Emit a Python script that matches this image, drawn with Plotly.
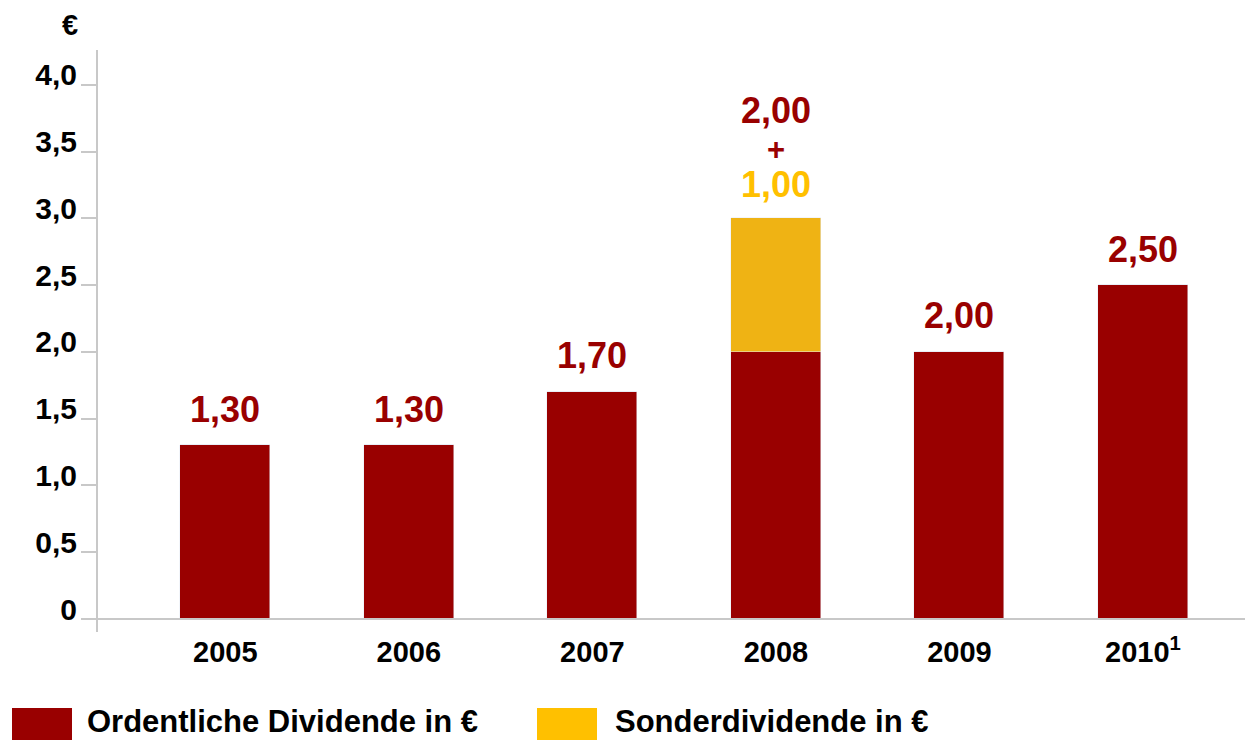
import plotly.graph_objects as go

years = ["2005", "2006", "2007", "2008", "2009", "2010<sup>1</sup>"]
ordentlich = [1.30, 1.30, 1.70, 2.00, 2.00, 2.50]
sonder = [0, 0, 0, 1.00, 0, 0]
ytick_vals = [0, 0.5, 1.0, 1.5, 2.0, 2.5, 3.0, 3.5, 4.0]
ytick_text = ["0", "0,5", "1,0", "1,5", "2,0", "2,5", "3,0", "3,5", "4,0"]

RED = "#990000"
YEL_BAR = "#EFB314"
YEL = "#FFC000"
FONT = "Liberation Sans, Arial, sans-serif"

def fmt(v):
    return f"{v:.2f}".replace(".", ",")

def f(size, color="black"):
    return dict(family=FONT, size=size, color=color, weight="bold")

x = list(range(len(years)))
fig = go.Figure()
fig.add_trace(go.Bar(x=x, y=ordentlich, marker_color=RED, width=0.49,
                     name="Ordentliche Dividende in €", hoverinfo="skip"))
fig.add_trace(go.Bar(x=x, y=sonder, marker_color=YEL_BAR, width=0.49,
                     name="Sonderdividende in €", hoverinfo="skip"))

annotations = []
for i, (o, s) in enumerate(zip(ordentlich, sonder)):
    tot = o + s
    if s > 0:
        annotations.append(dict(x=i, y=tot, text=fmt(s), yshift=34, yanchor="middle",
                                showarrow=False, font=f(36, YEL)))
        annotations.append(dict(x=i, y=tot, text="+", yshift=69, yanchor="middle",
                                showarrow=False, font=f(31, RED)))
        annotations.append(dict(x=i, y=tot, text=fmt(o), yshift=108, yanchor="middle",
                                showarrow=False, font=f(36, RED)))
    else:
        annotations.append(dict(x=i, y=tot, text=fmt(o), yshift=36, yanchor="middle",
                                showarrow=False, font=f(36, RED)))

# figure is rendered with an 8px page margin; positions below are in figure px
OFF = 8
W, H = 1253 - OFF, 740 - OFF
L, R, T, B = 98 - OFF, 0, 50 - OFF, 740 - 632
pw = W - L - R
ph = H - T - B

def px(sx):
    return (sx - OFF - L) / pw

def py(sy):
    return (H - B - (sy - OFF)) / ph

annotations.append(dict(xref="paper", yref="paper", x=px(70), y=py(25),
                        text="€", showarrow=False, xanchor="center", yanchor="middle",
                        font=f(29)))

leg_items = [("Ordentliche Dividende in €", RED, 12, 72, 85),
             ("Sonderdividende in €", YEL, 537, 597, 613)]
shapes = []
for name, col, x0, x1, tx in leg_items:
    shapes.append(dict(type="rect", xref="paper", yref="paper",
                       x0=px(x0), x1=px(x1), y0=py(742), y1=py(708),
                       fillcolor=col, line=dict(width=0)))
    annotations.append(dict(xref="paper", yref="paper", x=px(tx), y=py(722),
                            text=name, showarrow=False, xanchor="left", yanchor="middle",
                            font=f(31)))

shapes.append(dict(type="line", xref="paper", yref="y", x0=0, x1=1, y0=0, y1=0,
                   line=dict(color="#c8c8c8", width=2)))

fig.update_layout(
    width=W, height=H, margin=dict(l=L, r=R, t=T, b=B),
    barmode="stack", showlegend=False, bargap=0,
    plot_bgcolor="white", paper_bgcolor="white",
    annotations=annotations, shapes=shapes,
    font=dict(family=FONT, color="black"),
    xaxis=dict(range=[-0.694, 5.6], tickvals=x, ticktext=years, showgrid=False,
               zeroline=False, showline=False, ticks="",
               tickfont=f(29)),
    yaxis=dict(range=[-0.097, 4.26], tickvals=ytick_vals, ticktext=ytick_text,
               showgrid=False, zeroline=False, showline=True, linecolor="#c8c8c8",
               linewidth=2, ticks="outside", ticklen=15, tickcolor="#c8c8c8",
               tickwidth=2, ticklabelshift=-10, ticklabelstandoff=-2,
               tickfont=f(30)),
)
fig.write_html("out.html")
